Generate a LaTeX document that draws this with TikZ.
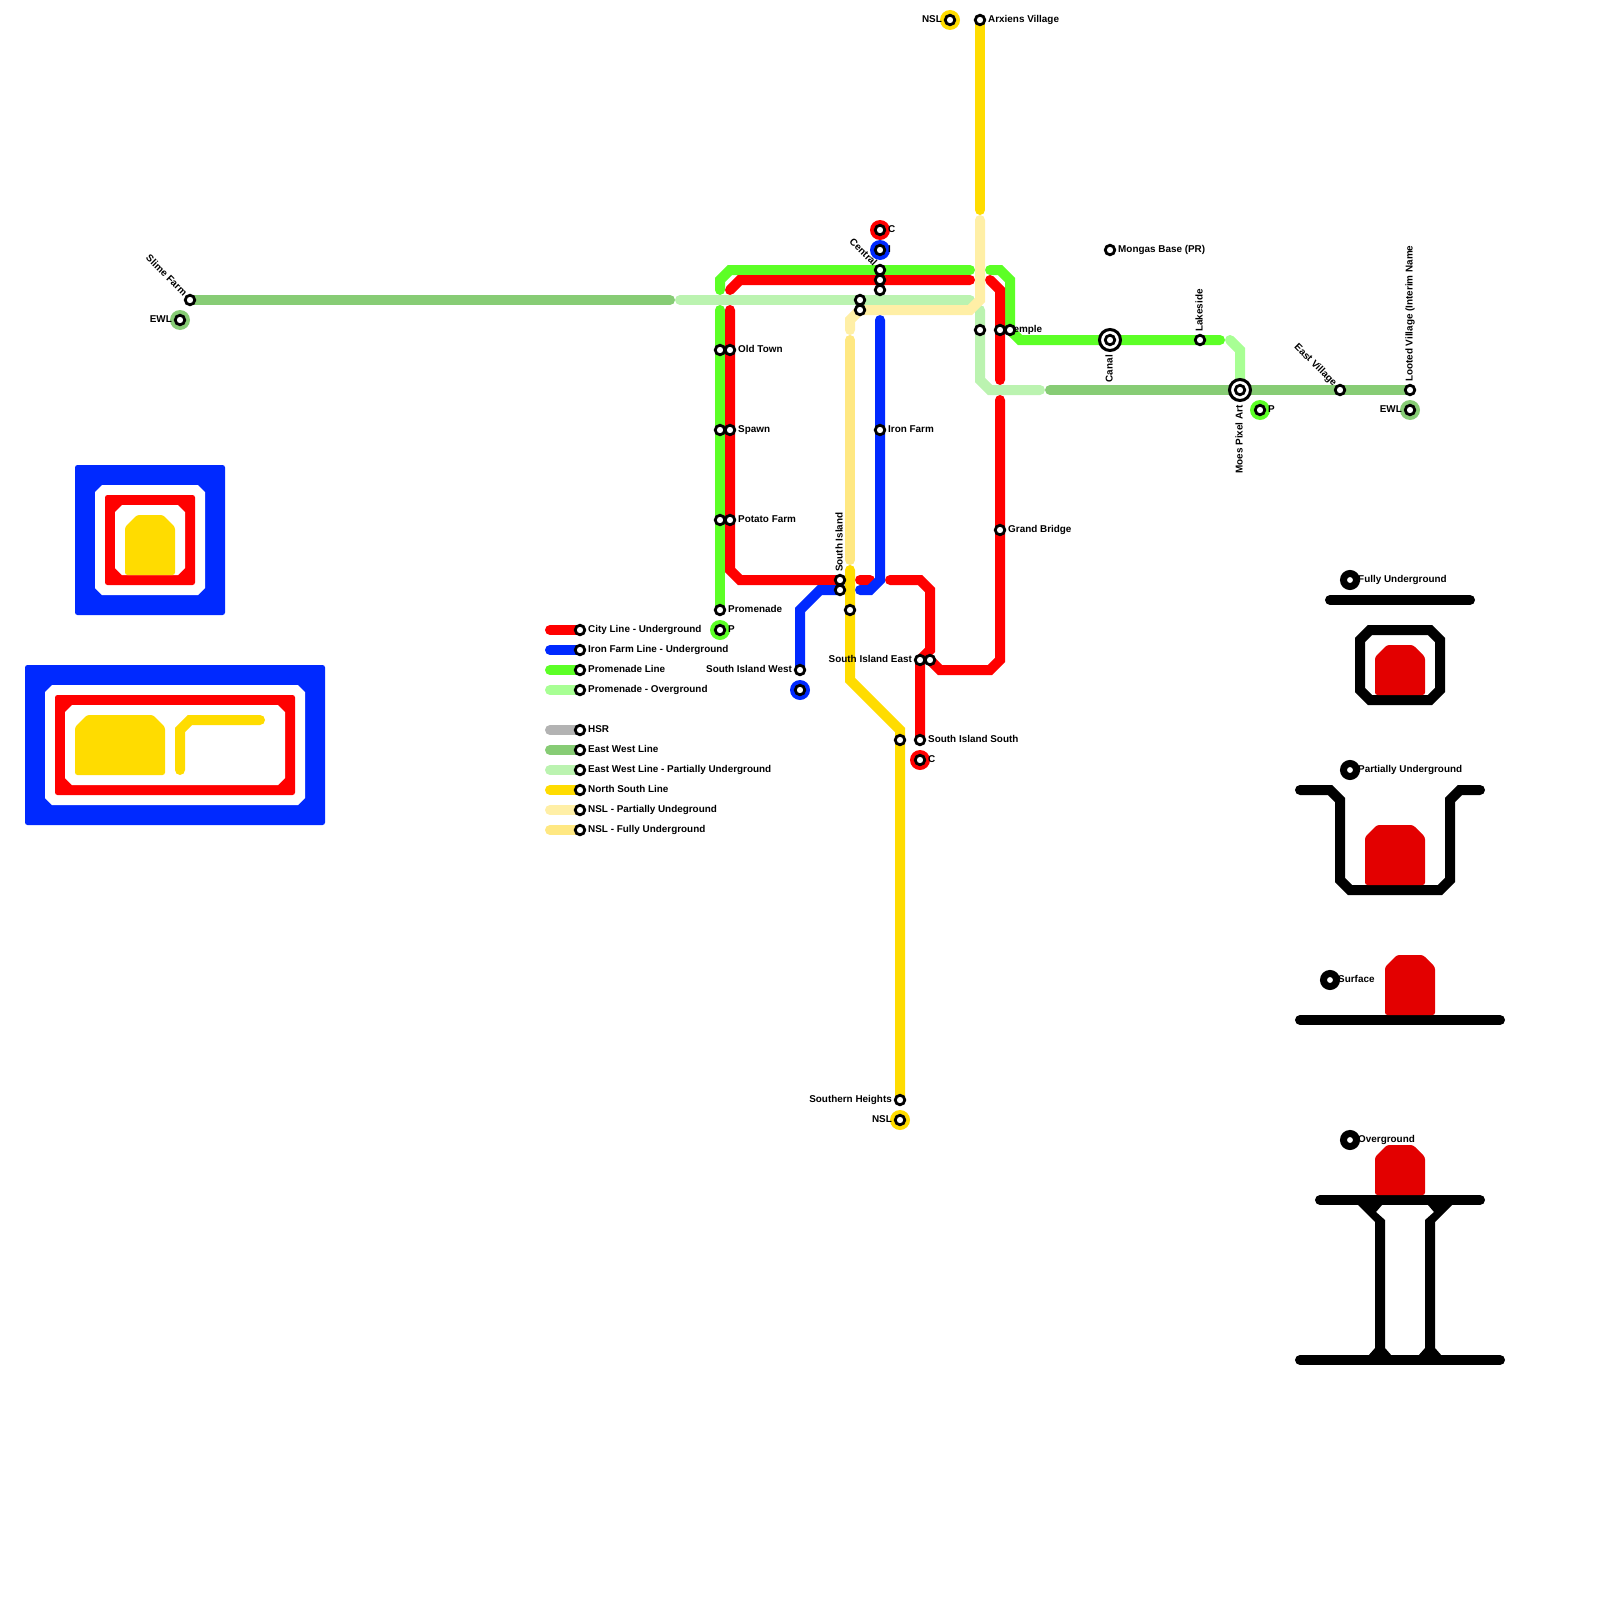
\documentclass[tikz,border=0pt]{standalone}
\usepackage{fontspec}
\setmainfont{Liberation Sans}
\usetikzlibrary{backgrounds}

\definecolor{cityred}{HTML}{FF0000}
\definecolor{ironblue}{HTML}{0029FF}
\definecolor{promgreen}{HTML}{5CFF26}
\definecolor{promover}{HTML}{A8FF94}
\definecolor{hsrgrey}{HTML}{B3B3B3}
\definecolor{ewgreen}{HTML}{87CC75}
\definecolor{ewpartial}{HTML}{BBF3B0}
\definecolor{nslyellow}{HTML}{FFDC00}
\definecolor{nslpartial}{HTML}{FFEFA6}
\definecolor{nslfull}{HTML}{FFE882}
\definecolor{blockred}{HTML}{E30000}

\tikzset{
  line/.style={line width=10pt, line cap=round, line join=miter},
  station/.style={circle, draw=black, fill=white, line width=2.8pt, minimum size=9.5pt, inner sep=0pt, outer sep=0pt},
  halo/.style={circle, minimum size=20pt, inner sep=0pt, outer sep=0pt},
  hub/.style={circle, draw=black, fill=white, line width=3pt, minimum size=21pt, inner sep=0pt, outer sep=0pt},
  keystop/.style={circle, draw=black, fill=white, line width=7pt, minimum size=13pt, inner sep=0pt, outer sep=0pt},
  lab/.style={font=\fontsize{9.9}{12}\selectfont\bfseries, inner sep=0pt, text height=7pt, text depth=2pt},
  shell/.style={line width=10pt, line cap=round, line join=miter},
  block/.style={rounded corners=2.5pt}
}

\begin{document}
\begin{tikzpicture}[x=1pt, y=-1pt]
    \useasboundingbox (0,0) rectangle (1600,1600);

    % --- stops on the map ---
    \node[halo, fill=cityred] (cityhaloN) at (880,230) {};
    \node[halo, fill=ironblue] (ironhaloN) at (880,250) {};
    \node[halo, fill=promgreen] (promhaloS) at (720,630) {};
    \node[halo, fill=ironblue] (ironhaloS) at (800,690) {};
    \node[halo, fill=cityred] (cityhaloS) at (920,760) {};
    \node[halo, fill=nslyellow] (nslhaloN) at (950,20) {};
    \node[halo, fill=nslyellow] (nslhaloS) at (900,1120) {};
    \node[halo, fill=ewgreen] (ewhaloW) at (180,320) {};
    \node[halo, fill=ewgreen] (ewhaloE) at (1410,410) {};
    \node[halo, fill=promgreen] (promhaloE) at (1260,410) {};

    \node[lab, anchor=east, rotate=-45] (slimelab) at (185,295) {Slime Farm};
    \node[lab, anchor=east] (ewllabW) at (172,320) {EWL};
    \node[lab, anchor=west] (oldtownlab) at (738,350) {Old Town};
    \node[lab, anchor=west] (spawnlab) at (738,430) {Spawn};
    \node[lab, anchor=west] (potatolab) at (738,520) {Potato Farm};
    \node[lab, anchor=west] (promlab) at (728,610) {Promenade};
    \node[lab, anchor=west] (plabS) at (728,630) {P};
    \node[lab, anchor=west] (clabN) at (888,230) {C};
    \node[lab, anchor=west] (ilabN) at (888,250) {I};
    \node[lab, anchor=east, rotate=-45] (centrallab) at (875,265) {Central};
    \node[lab, anchor=west] (ironfarmlab) at (888,430) {Iron Farm};
    \node[lab, anchor=west, rotate=90] (silab) at (840,572) {South Island};
    \node[lab, anchor=east] (siwestlab) at (792,670) {South Island West};
    \node[lab, anchor=east] (sieastlab) at (912,660) {South Island East};
    \node[lab, anchor=west] (sisouthlab) at (928,740) {South Island South};
    \node[lab, anchor=west] (clabS) at (928,760) {C};
    \node[lab, anchor=east] (southernlab) at (892,1100) {Southern Heights};
    \node[lab, anchor=east] (nsllabS) at (892,1120) {NSL};
    \node[lab, anchor=east] (nsllabN) at (942,20) {NSL};
    \node[lab, anchor=west] (arxienslab) at (988,20) {Arxiens Village};
    \node[lab, anchor=west] (templelab) at (1008,330) {Temple};
    \node[lab, anchor=west] (bridgelab) at (1008,530) {Grand Bridge};
    \node[lab, anchor=west] (mongaslab) at (1118,250) {Mongas Base (PR)};
    \node[lab, anchor=east, rotate=90] (canallab) at (1110,355) {Canal};
    \node[lab, anchor=west, rotate=90] (lakelab) at (1200,332) {Lakeside};
    \node[lab, anchor=east, rotate=90] (moeslab) at (1240,405) {Moes Pixel Art};
    \node[lab, anchor=west] (plabE) at (1268,410) {P};
    \node[lab, anchor=east, rotate=-45] (eastvillab) at (1335,385) {East Village};
    \node[lab, anchor=west, rotate=90] (lootedlab) at (1410,382) {Looted Village (Interim Name};
    \node[lab, anchor=east] (ewllabE) at (1402,410) {EWL};

    \node[hub] (canalhub) at (1110,340) {};
    \node[hub] (moeshub) at (1240,390) {};

    \node[station] (slime) at (190,300) {};
    \node[station] (ewlW) at (180,320) {};
    \node[station] (oldtownP) at (720,350) {};
    \node[station] (oldtownC) at (730,350) {};
    \node[station] (spawnP) at (720,430) {};
    \node[station] (spawnC) at (730,430) {};
    \node[station] (potatoP) at (720,520) {};
    \node[station] (potatoC) at (730,520) {};
    \node[station] (promenade) at (720,610) {};
    \node[station] (promS) at (720,630) {};
    \node[station] (cityN) at (880,230) {};
    \node[station] (ironN) at (880,250) {};
    \node[station] (centralP) at (880,270) {};
    \node[station] (centralC) at (880,280) {};
    \node[station] (centralS) at (880,290) {};
    \node[station] (centralE) at (860,300) {};
    \node[station] (centralN) at (860,310) {};
    \node[station] (ironfarm) at (880,430) {};
    \node[station] (siC) at (840,580) {};
    \node[station] (siI) at (840,590) {};
    \node[station] (siN) at (850,610) {};
    \node[station] (siwest) at (800,670) {};
    \node[station] (ironS) at (800,690) {};
    \node[station] (sieastA) at (920,660) {};
    \node[station] (sieastB) at (930,660) {};
    \node[station] (sisouthN) at (900,740) {};
    \node[station] (sisouth) at (920,740) {};
    \node[station] (cityS) at (920,760) {};
    \node[station] (southern) at (900,1100) {};
    \node[station] (nslS) at (900,1120) {};
    \node[station] (nslN) at (950,20) {};
    \node[station] (arxiens) at (980,20) {};
    \node[station] (templeE) at (980,330) {};
    \node[station] (templeC) at (1000,330) {};
    \node[station] (templeP) at (1010,330) {};
    \node[station] (bridge) at (1000,530) {};
    \node[station] (mongas) at (1110,250) {};
    \node[station] (canal) at (1110,340) {};
    \node[station] (lakeside) at (1200,340) {};
    \node[station] (moes) at (1240,390) {};
    \node[station] (promE) at (1260,410) {};
    \node[station] (eastvil) at (1340,390) {};
    \node[station] (looted) at (1410,390) {};
    \node[station] (ewlE) at (1410,410) {};

    % --- free line ends ---
    \coordinate (ewA) at (670,300);
    \coordinate (ewB) at (680,300);
    \coordinate (ewC) at (970,300);
    \coordinate (ewD) at (980,310);
    \coordinate (ewE) at (1040,390);
    \coordinate (ewF) at (1050,390);
    \coordinate (promA) at (720,290);
    \coordinate (promB) at (970,270);
    \coordinate (promC) at (720,310);
    \coordinate (promD) at (990,270);
    \coordinate (promF) at (1220,340);
    \coordinate (overA) at (1230,340);
    \coordinate (cityA) at (730,290);
    \coordinate (cityB) at (970,280);
    \coordinate (cityC) at (730,310);
    \coordinate (cityD) at (860,580);
    \coordinate (cityE) at (870,580);
    \coordinate (cityF) at (890,580);
    \coordinate (cityG) at (990,280);
    \coordinate (cityH) at (1000,380);
    \coordinate (cityI) at (1000,400);
    \coordinate (ironA) at (880,320);
    \coordinate (ironB) at (860,590);
    \coordinate (nslA) at (980,210);
    \coordinate (nslB) at (980,220);
    \coordinate (nslC) at (850,330);
    \coordinate (nslD) at (850,340);
    \coordinate (nslE) at (850,560);
    \coordinate (nslF) at (850,570);

    % --- lines ---
    \begin{scope}[on background layer]
        \draw[line, ewgreen] (slime.center) -- (ewA);
        \draw[line, ewpartial] (ewB) -- (ewC);
        \draw[line, ewpartial] (ewD) -- (980,380) -- (990,390) -- (ewE);
        \draw[line, ewgreen] (ewF) -- (looted.center);

        \draw[line, promgreen] (promA) -- (720,280) -- (730,270) -- (promB);
        \draw[line, promgreen] (promC) -- (promenade.center);
        \draw[line, promgreen] (promD) -- (1000,270) -- (1010,280) -- (templeP.center) -- (1020,340) -- (promF);
        \draw[line, promover] (overA) -- (1240,350) -- (moes.center);

        \draw[line, cityred] (cityA) -- (740,280) -- (cityB);
        \draw[line, cityred] (cityC) -- (730,570) -- (740,580) -- (siC.center);
        \draw[line, cityred] (cityD) -- (cityE);
        \draw[line, cityred] (cityF) -- (920,580) -- (930,590) -- (930,650) -- (sieastA.center) -- (sisouth.center);
        \draw[line, cityred] (sieastB.center) -- (940,670) -- (990,670) -- (1000,660) -- (cityI);
        \draw[line, cityred] (cityG) -- (1000,290) -- (cityH);

        \draw[line, ironblue] (ironA) -- (880,580) -- (870,590) -- (ironB);
        \draw[line, ironblue] (siI.center) -- (820,590) -- (800,610) -- (siwest.center);

        \draw[line, nslyellow] (arxiens.center) -- (nslA);
        \draw[line, nslpartial] (nslB) -- (980,300) -- (970,310) -- (860,310) -- (850,320) -- (nslC);
        \draw[line, nslfull] (nslD) -- (nslE);
        \draw[line, nslyellow] (nslF) -- (850,680) -- (900,730) -- (southern.center);
    \end{scope}

    % --- legend ---
    \foreach \keyname/\keycolor/\keyy/\keytext in {
        keycity/cityred/630/City Line - Underground,
        keyiron/ironblue/650/Iron Farm Line - Underground,
        keyprom/promgreen/670/Promenade Line,
        keyover/promover/690/Promenade - Overground,
        keyhsr/hsrgrey/730/HSR,
        keyew/ewgreen/750/East West Line,
        keypart/ewpartial/770/East West Line - Partially Underground,
        keynsl/nslyellow/790/North South Line,
        keynslp/nslpartial/810/NSL - Partially Undeground,
        keynslf/nslfull/830/NSL - Fully Underground} {
        \node[station] (\keyname) at (580,\keyy) {};
        \coordinate (\keyname start) at (550,\keyy);
        \node[lab, anchor=west] (\keyname lab) at (588,\keyy) {\keytext};
        \begin{scope}[on background layer]
            \draw[line, \keycolor] (\keyname start) -- (\keyname.center);
        \end{scope}
    }

    % --- cross sections, left ---
    \fill[ironblue, block] (75,465) rectangle (225,615);
    \fill[white] (102,485) -- (198,485) -- (205,492) -- (205,588) -- (198,595) -- (102,595) -- (95,588) -- (95,492) -- cycle;
    \fill[cityred, block] (105,495) rectangle (195,585);
    \fill[white] (122,505) -- (178,505) -- (185,512) -- (185,568) -- (178,575) -- (122,575) -- (115,568) -- (115,512) -- cycle;
    \fill[nslyellow, block] (137,515) -- (163,515) -- (175,527) -- (175,575) -- (125,575) -- (125,527) -- cycle;

    \fill[ironblue, block] (25,665) rectangle (325,825);
    \fill[white] (52,685) -- (298,685) -- (305,692) -- (305,798) -- (298,805) -- (52,805) -- (45,798) -- (45,692) -- cycle;
    \fill[cityred, block] (55,695) rectangle (295,795);
    \fill[white] (72,705) -- (278,705) -- (285,712) -- (285,778) -- (278,785) -- (72,785) -- (65,778) -- (65,712) -- cycle;
    \fill[nslyellow, block] (87,715) -- (153,715) -- (165,727) -- (165,775) -- (75,775) -- (75,727) -- cycle;
    \draw[line, nslyellow] (180,770) -- (180,730) -- (190,720) -- (260,720);

    % --- cross sections, right ---
    \node[keystop] (fullstop) at (1350,580) {};
    \node[lab, anchor=west] (fulllab) at (1358,580) {Fully Underground};
    \draw[shell] (1330,600) -- (1470,600);
    \draw[shell] (1370,630) -- (1430,630) -- (1440,640) -- (1440,690) -- (1430,700) -- (1370,700) -- (1360,690) -- (1360,640) -- cycle;
    \fill[blockred, block] (1387,645) -- (1413,645) -- (1425,657) -- (1425,695) -- (1375,695) -- (1375,657) -- cycle;

    \node[keystop] (partstop) at (1350,770) {};
    \node[lab, anchor=west] (partlab) at (1358,770) {Partially Underground};
    \draw[shell] (1300,790) -- (1330,790) -- (1340,800) -- (1340,880) -- (1350,890) -- (1440,890) -- (1450,880) -- (1450,800) -- (1460,790) -- (1480,790);
    \fill[blockred, block] (1377,825) -- (1413,825) -- (1425,837) -- (1425,885) -- (1365,885) -- (1365,837) -- cycle;

    \node[keystop] (surfstop) at (1330,980) {};
    \node[lab, anchor=west] (surflab) at (1338,980) {Surface};
    \draw[shell] (1300,1020) -- (1500,1020);
    \fill[blockred, block] (1397,955) -- (1423,955) -- (1435,967) -- (1435,1015) -- (1385,1015) -- (1385,967) -- cycle;

    \node[keystop] (overstop) at (1350,1140) {};
    \node[lab, anchor=west] (overlab) at (1358,1140) {Overground};
    \draw[shell] (1320,1200) -- (1480,1200);
    \draw[shell] (1300,1360) -- (1500,1360);
    \fill (1353,1200) -- (1382,1200) -- (1382,1205) -- (1376,1212) -- (1385,1220) -- (1385,1348) -- (1392,1356) -- (1368,1356) -- (1375,1348) -- (1375,1222) -- cycle;
    \fill (1457,1200) -- (1428,1200) -- (1428,1205) -- (1434,1212) -- (1425,1220) -- (1425,1348) -- (1418,1356) -- (1442,1356) -- (1435,1348) -- (1435,1222) -- cycle;
    \fill[blockred, block] (1387,1145) -- (1413,1145) -- (1425,1157) -- (1425,1195) -- (1375,1195) -- (1375,1157) -- cycle;
\end{tikzpicture}
\end{document}
